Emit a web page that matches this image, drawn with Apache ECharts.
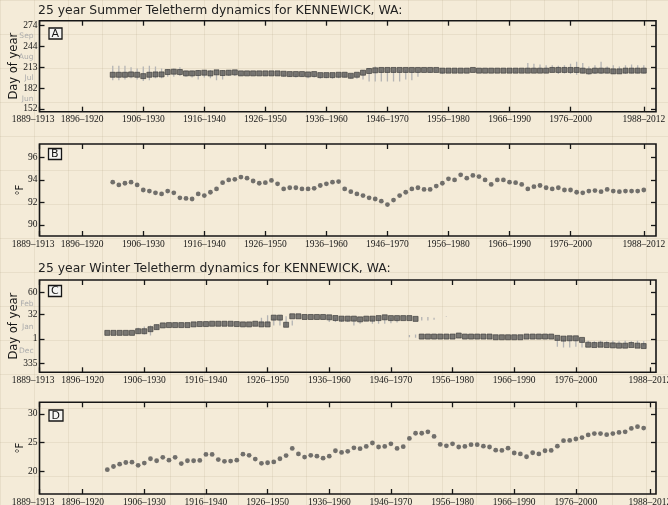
<!DOCTYPE html>
<html>
<head>
<meta charset="utf-8">
<script src="https://cdn.jsdelivr.net/npm/echarts@6/dist/echarts.min.js"></script>
<style>
  html, body { margin: 0; padding: 0; background: #f4ebd8; }
  #chart { width: 668px; height: 505px; }
</style>
</head>
<body>
<div id="chart"></div>
<script>
// 25-year windows, labelled by their first year
const periodStarts = [1889, 1896, 1906, 1916, 1926, 1936, 1946, 1956, 1966, 1976, 1988];

// day-of-year ticks (month starts) and month names placed mid-month
const summerTicks = [152, 182, 213, 244, 274];
const summerMonthPos = [166, 197, 228, 259];
const summerMonths = ['Jun', 'Jul', 'Aug', 'Sep'];
const winterTicks = [-30, 1, 32, 60];          // -30 is day 335 of the previous year
const winterMonthPos = [-15, 16, 46];
const winterMonths = ['Dec', 'Jan', 'Feb'];
const summerTempTicks = [90, 92, 94, 96];
const winterTempTicks = [20, 25, 30];

// A: summer teletherm day (window start years 1901..1988)
const summerStart = 1901;
const summerMedian = [202,202,202,202.5,202,200,202,202.5,202.5,206,
  206.5,206,204,204,204.5,205,204,205.5,204.5,205,
  205.5,204,204,204,204,204,204,204,203.5,203,
  203,203,202.5,203,201.5,201.5,201.5,202,202,200.5,
  202,205,207.5,208.5,209,209,209,209,209,209,
  209,209,209,209,208,208,208,208,208,209,
  208,208,208,208,208,208,208,208,208,208,
  208,208,209,209,209,209,209,208,207,208,
  208,208,207,207,208,208,208,208];
const summerHigh = [215,215,215,213,211,214,215,214,211,210,
  211,213,208,208,209,209,209,209,209,209,
  208,204,204,204,204,204,204,204,204,203,
  203,203,203,203,204,204,204,204,204,203,
  204,209,212,214,209,209,209,209,209,209,
  209,209,209,209,208,208,208,208,208,209,
  208,208,208,208,208,208,208,210,219,218,
  217,216,216,215,216,218,221,219,214,216,
  221,214,216,214,216,217,216,216];
const summerLow = [194,194,195,197,195,193,194,197,197,199,
  199,200,199,198,195,198,197,194,195,200,
  200,201,202,202,202,201,202,201,199,199,
  198,199,197,198,196,197,196,197,198,196,
  196,195,192,192,192,192,192,192,195,194,
  199,207,205,207,203,206,206,208,208,209,
  208,208,208,208,208,206,206,206,206,206,
  206,205,206,203,204,203,202,204,202,203,
  203,204,203,204,203,204,204,204];

// B: summer teletherm temperature (F)
const summerTemp = [93.8,93.55,93.7,93.8,93.55,93.1,93.0,92.85,92.75,93.0,
  92.85,92.4,92.35,92.3,92.75,92.6,92.9,93.2,93.75,94.0,
  94.05,94.25,94.15,93.9,93.7,93.75,93.95,93.65,93.2,93.3,
  93.3,93.2,93.2,93.25,93.5,93.65,93.8,93.85,
  93.2,92.95,92.75,92.6,92.4,92.3,92.1,91.8,92.2,92.6,
  92.9,93.2,93.3,93.15,93.15,93.45,93.7,94.1,94.0,94.45,
  94.15,94.4,94.3,94.0,93.6,94.0,94.0,93.8,93.75,93.6,
  93.2,93.4,93.5,93.3,93.2,93.3,93.1,93.1,92.9,92.85,
  93.0,93.05,92.95,93.15,93.0,92.95,93.0,93.0,93.0,93.1];

// C: winter teletherm day (window start years 1900..1987)
const winterStart = 1900;
const winterMedian = [8.7,8.7,8.7,8.7,8.7,10.8,10.8,13.4,16,18.2,
  18.6,18.6,18.6,18.6,19.5,19.9,19.9,20.3,20.3,20.3,
  20.3,19.9,19.5,19.5,20.3,19.5,19.5,28.1,28.1,19,
  29.8,29.8,28.9,28.9,28.9,28.9,28.5,27.6,26.8,26.8,
  26.8,25.9,26.8,26.8,27.5,28.5,27.5,27.5,27.5,27.5,
  26.5,4,4,4,4,4,4,5.3,4,4,
  4,4,4,3.1,3.1,3.1,3.1,3.1,4,4,
  4,4,4,2.3,1.4,1.8,1.8,-0.3,-6.4,-6.8,
  -6.4,-6.8,-7.2,-7.6,-7.6,-6.8,-7.6,-8.1];
// [year, low, high]
const winterWhiskers = [
  [1905,7.4,15.2],[1906,6.5,16.9],[1907,5.3,18.2],[1908,12.6,19.5],
  [1925,19.5,28.1],[1926,19.5,31.1],[1927,18.2,28.1],[1928,18.2,31.1],
  [1929,16.9,29.8],[1930,18.2,24.6],[1936,22.5,28.5],[1937,22.5,27.6],
  [1938,22.5,26.8],[1939,22.5,26.8],[1940,18.2,26.8],[1941,20.3,25.9],
  [1942,23.8,26.8],[1943,20.3,27],[1944,20.3,27.5],[1945,20.3,28.5],
  [1946,21,27.5],[1947,22,27.5],[1949,3,6],[1950,2.5,6.5],
  [1951,24.6,28.9],[1952,24.6,28.9],[1953,25.5,28.1],[1955,29,29.6],
  [1973,-8.9,2.3],[1974,-9.8,1.4],[1975,-9.8,1.8],[1976,-8.9,1.8],
  [1977,-9.8,-0.3],[1978,-6.4,-1.2],[1979,-6.8,-2.1],[1980,-6.4,-1.2],
  [1981,-6.8,-2.1],[1982,-7.2,-1.2],[1983,-7.6,-2.1],[1984,-7.6,-1.2],
  [1985,-6.8,-2.1],[1986,-7.6,-1.2],[1987,-8.1,-2.1]
];

// D: winter teletherm temperature (F)
const winterTemp = [20.25,20.8,21.2,21.5,21.55,21.0,21.4,22.15,21.8,22.4,
  21.9,22.4,21.3,21.8,21.8,21.85,22.9,22.9,22.0,21.7,
  21.75,21.9,22.95,22.75,22.1,21.35,21.45,21.6,22.15,22.7,
  23.95,23.0,22.45,22.75,22.6,22.25,22.6,23.55,
  23.25,23.45,24.05,23.9,24.3,24.9,24.2,24.3,24.75,23.95,
  24.25,25.7,26.6,26.6,26.85,26.05,24.65,24.4,24.75,24.2,
  24.3,24.6,24.6,24.35,24.2,23.65,23.6,24.0,23.15,23.0,
  22.5,23.2,23.0,23.55,23.6,24.35,25.3,25.35,25.6,25.85,
  26.3,26.55,26.55,26.35,26.55,26.75,26.85,27.45,27.75,27.5];

const ink = '#161616';
const serif = 'Liberation Serif';
const sans = 'DejaVu Sans';

// faint paper grid
const tex = document.createElement('canvas');
tex.width = 34; tex.height = 34;
const tc = tex.getContext('2d');
tc.fillStyle = '#f4ebd8';
tc.fillRect(0, 0, 34, 34);
tc.strokeStyle = 'rgba(175,155,125,0.16)';
tc.lineWidth = 1;
tc.beginPath();
tc.moveTo(0.5, 0); tc.lineTo(0.5, 34);
tc.moveTo(0, 0.5); tc.lineTo(34, 0.5);
tc.stroke();

function xPair(gi, max) {
  const base = {
    type: 'value', gridIndex: gi, min: 1889, max: max,
    axisLine: { show: false, onZero: false }, splitLine: { show: false },
    axisTick: { inside: true, length: 5, customValues: periodStarts, lineStyle: { color: ink, width: 1.3 } }
  };
  return [
    Object.assign({}, base, {
      position: 'bottom',
      axisLabel: {
        customValues: periodStarts, margin: 3,
        fontFamily: serif, fontSize: 9.5, color: ink,
        formatter: v => {
          const t = v + '–' + (v + 24);
          return v === periodStarts[0] ? '{first|' + t + '}' : t;
        },
        rich: { first: { fontFamily: serif, fontSize: 9.5, color: ink, padding: [0, 13, 0, 0] } }
      }
    }),
    Object.assign({}, base, { position: 'top', axisLabel: { show: false } })
  ];
}

function yPair(gi, min, max, ticks, name, nameGap, nameSize, fmt) {
  const base = {
    type: 'value', gridIndex: gi, min: min, max: max,
    axisLine: { show: false, onZero: false }, splitLine: { show: false },
    axisTick: { inside: true, length: 5, customValues: ticks, lineStyle: { color: ink, width: 1.3 } }
  };
  return [
    Object.assign({}, base, {
      position: 'left', name: name, nameLocation: 'middle', nameGap: nameGap, nameMoveOverlap: false,
      nameTextStyle: { fontFamily: sans, fontSize: nameSize, color: ink },
      axisLabel: { customValues: ticks, margin: 2, fontFamily: serif, fontSize: 9.5, color: ink, formatter: fmt }
    }),
    Object.assign({}, base, { position: 'right', axisLabel: { show: false } })
  ];
}

function monthAxis(gi, min, max, pos, names) {
  return {
    type: 'value', gridIndex: gi, min: min, max: max, position: 'left',
    axisLine: { show: false, onZero: false }, splitLine: { show: false }, axisTick: { show: false },
    axisLabel: {
      customValues: pos, margin: 6, fontFamily: sans, fontSize: 7.5, color: '#ababab',
      formatter: v => names[pos.indexOf(v)]
    }
  };
}

function panelTag(txt, x, y) {
  return {
    text: txt, left: x, top: y, padding: [1, 3, 0, 3],
    borderColor: ink, borderWidth: 1.3, backgroundColor: '#f5f5f3',
    textStyle: { fontFamily: sans, fontSize: 11, fontWeight: 'normal', color: ink }
  };
}

function whiskerItem(params, api) {
  const a = api.coord([api.value(0), api.value(1)]);
  const b = api.coord([api.value(0), api.value(2)]);
  return { type: 'line', shape: { x1: a[0], y1: a[1], x2: b[0], y2: b[1] },
           style: { stroke: '#b4b4b4', lineWidth: 1.3 } };
}

const boxStyle = { color: '#5a5a5a', borderColor: '#353535', borderWidth: 0.8 };
const dotStyle = { color: '#505050' };

const gridBase = {
  left: 39.5, right: 12, show: true, borderColor: ink, borderWidth: 1.6,
  backgroundColor: 'transparent', outerBoundsMode: 'none', containLabel: false
};

let myChart = echarts.init(document.getElementById('chart'));
myChart.setOption({
  animation: false,
  backgroundColor: { image: tex, repeat: 'repeat' },
  title: [
    { text: '25 year Summer Teletherm dynamics for KENNEWICK, WA:', left: 38, top: 5, padding: 0,
      textStyle: { fontFamily: sans, fontSize: 12.4, fontWeight: 'normal', color: '#222' } },
    { text: '25 year Winter Teletherm dynamics for KENNEWICK, WA:', left: 38, top: 263, padding: 0,
      textStyle: { fontFamily: sans, fontSize: 12.4, fontWeight: 'normal', color: '#222' } },
    panelTag('A', 48.5, 27.5),
    panelTag('B', 48, 148),
    panelTag('C', 48, 285),
    panelTag('D', 48.5, 409.5)
  ],
  grid: [
    Object.assign({ top: 20.7, height: 91 }, gridBase),
    Object.assign({ top: 144, height: 92 }, gridBase),
    Object.assign({ top: 280, height: 92.3 }, gridBase),
    Object.assign({ top: 402.3, height: 91.7 }, gridBase)
  ],
  xAxis: [].concat(xPair(0, 1990), xPair(1, 1990), xPair(2, 1989), xPair(3, 1989)),
  yAxis: [].concat(
    yPair(0, 148, 281, summerTicks, 'Day of year', 19.5, 11.5),
    [monthAxis(0, 148, 281, summerMonthPos, summerMonths)],
    yPair(1, 89, 97.2, summerTempTicks, '°F', 14.5, 10),
    yPair(2, -41.5, 76, winterTicks, 'Day of year', 19.5, 11.5, v => (v < 1 ? v + 365 : v)),
    [monthAxis(2, -41.5, 76, winterMonthPos, winterMonths)],
    yPair(3, 16, 32, winterTempTicks, '°F', 14.5, 10)
  ),
  series: [
    {
      type: 'custom', xAxisIndex: 0, yAxisIndex: 0, clip: true,
      renderItem: whiskerItem, encode: { x: 0, y: [1, 2] },
      data: summerMedian.map((m, i) => [summerStart + i, summerLow[i], summerHigh[i]])
    },
    {
      type: 'scatter', xAxisIndex: 0, yAxisIndex: 0, symbol: 'rect', symbolSize: 5,
      itemStyle: boxStyle,
      data: summerMedian.map((m, i) => [summerStart + i, m])
    },
    {
      type: 'scatter', xAxisIndex: 2, yAxisIndex: 3, symbolSize: 4.8, itemStyle: dotStyle,
      data: summerTemp.map((t, i) => [summerStart + i, t])
    },
    {
      type: 'custom', xAxisIndex: 4, yAxisIndex: 5, clip: true,
      renderItem: whiskerItem, encode: { x: 0, y: [1, 2] },
      data: winterWhiskers
    },
    {
      type: 'scatter', xAxisIndex: 4, yAxisIndex: 5, symbol: 'rect', symbolSize: 5,
      itemStyle: boxStyle,
      data: winterMedian.map((m, i) => [winterStart + i, m])
    },
    {
      type: 'scatter', xAxisIndex: 6, yAxisIndex: 8, symbolSize: 4.8, itemStyle: dotStyle,
      data: winterTemp.map((t, i) => [winterStart + i, t])
    }
  ]
});
</script>
</body>
</html>
